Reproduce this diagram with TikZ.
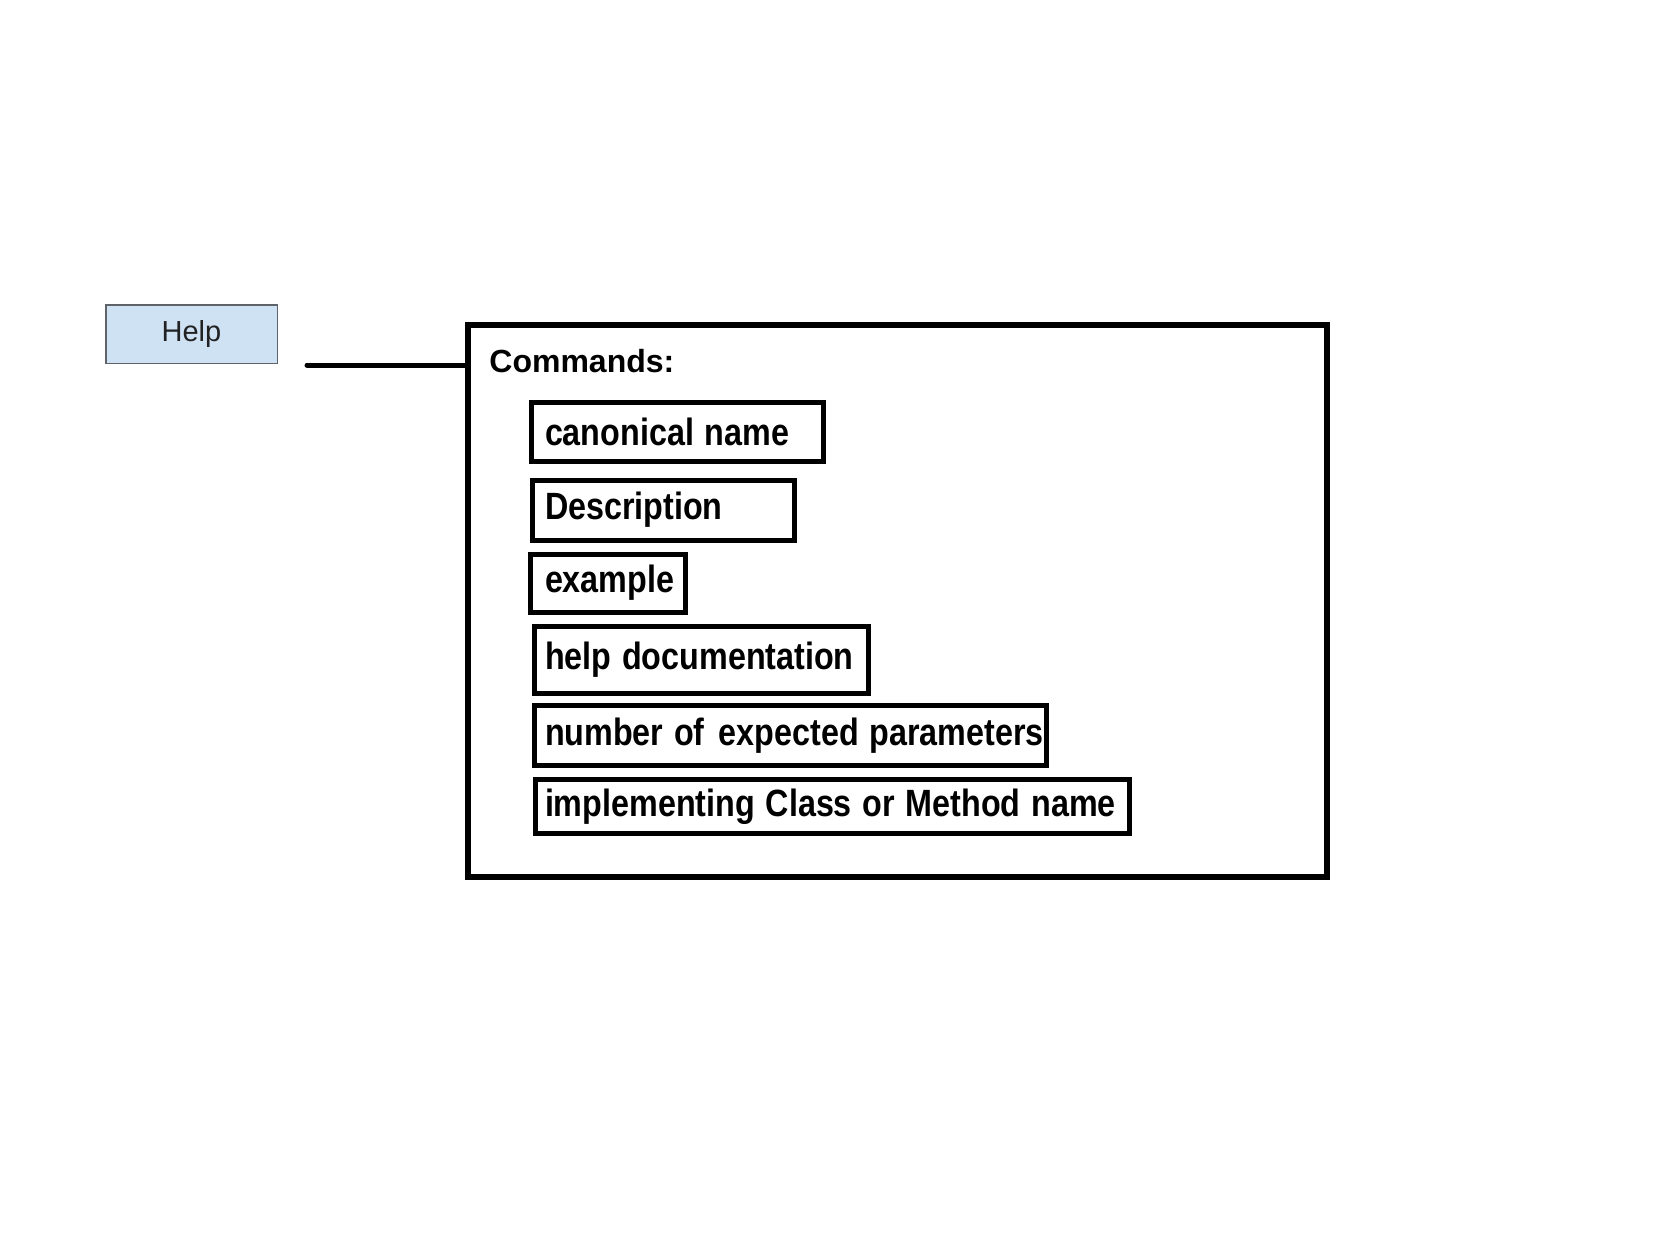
\documentclass[tikz,border=0pt]{standalone}
\usepackage{fontspec}
\setmainfont{Liberation Sans}
\newfontfamily\cmdfont{Liberation Sans Bold}
\newfontfamily\headfont{Liberation Sans Bold}
\definecolor{helpfill}{HTML}{CFE2F3}
\definecolor{helpedge}{HTML}{5F6368}
\definecolor{helptext}{HTML}{222222}
% single-line field text, narrowed horizontally
\newcommand{\oneline}[1]{\scalebox{0.85}[1]{#1}}
\begin{document}
\begin{tikzpicture}[x=0.5pt,y=-0.5pt,
  helpbtn/.style={draw=helpedge, fill=helpfill, line width=0.75pt,
    minimum width=85.75pt, minimum height=29.25pt, inner sep=0pt,
    text=helptext, font=\fontsize{14.5pt}{16pt}\selectfont},
  panel/.style={draw=black, line width=3pt, minimum width=429.5pt,
    minimum height=276pt, inner sep=0pt},
  heading/.style={anchor=base west, inner sep=0pt,
    font=\headfont\fontsize{16pt}{18pt}\selectfont},
  field/.style={draw=black, line width=2.5pt, anchor=west, outer sep=0pt,
    inner ysep=0pt, align=left, font=\cmdfont\fontsize{19pt}{21pt}\selectfont},
  link/.style={line width=2.5pt, line cap=round}]
\useasboundingbox (0,0) rectangle (1668,1255);

% button on the left
\node[helpbtn] (help) at (191.5,334) {Help};

% panel listing the command attributes
\node[panel] (cmds) at (897.5,601) {};
\node[heading] (title) at (489,372) {Commands:};

\node[field, minimum width=146pt, minimum height=29.5pt, inner xsep=6.75pt,
  text width=132.5pt] (canon) at (531.5,432) {\oneline{canonical name}};
\node[field, minimum width=131pt, minimum height=30pt, inner xsep=6.25pt,
  text width=118.5pt] (desc) at (532.5,510) {\oneline{Description}};
\node[field, minimum width=77.5pt, minimum height=29pt, inner xsep=7.25pt,
  text width=63pt] (example) at (530.5,583) {\oneline{example}};
\node[field, minimum width=167pt, minimum height=33.5pt, inner xsep=5.25pt,
  text width=156.5pt] (helpdoc) at (534.5,660) {\oneline{help documentation}};
\node[field, minimum width=256pt, minimum height=30pt, inner xsep=5.25pt,
  text width=245.5pt] (nparams) at (534.5,735.5) {\oneline{number of\hspace{2pt} expected parameters}};
\node[field, minimum width=297pt, minimum height=27pt, inner xsep=4.75pt,
  text width=287.5pt] (impl) at (535.5,806.5) {\oneline{implementing Class or Method name}};

% connector into the panel
\coordinate (tap) at (307,365);
\draw[link] (tap) -- (tap -| cmds.west);
\end{tikzpicture}
\end{document}
